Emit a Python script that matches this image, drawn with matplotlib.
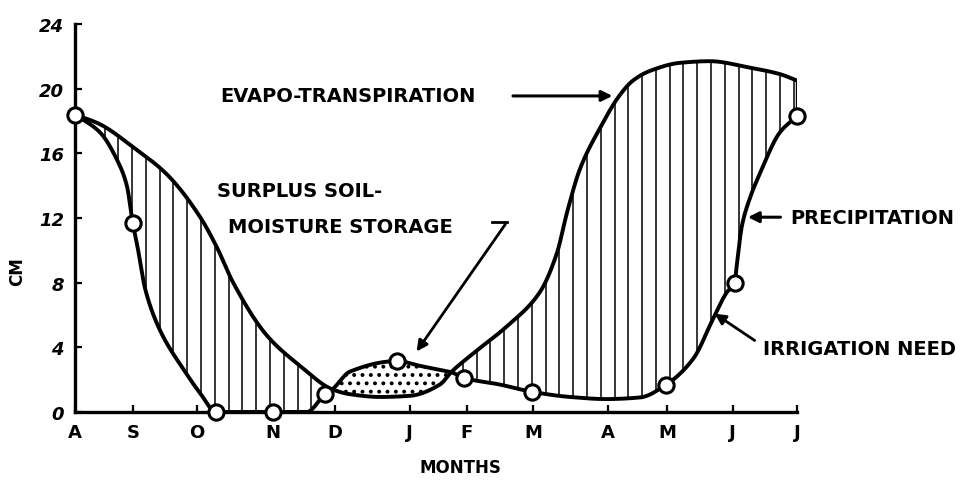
import numpy as np
import matplotlib
matplotlib.use("Agg")
from matplotlib import pyplot as plt

# month axis (positions, in month units)
month_labels = ["A", "S", "O", "N", "D", "J", "F", "M", "A", "M", "J", "J"]
month_pos = [0.0, 0.88, 1.86, 3.01, 3.96, 5.10, 5.97, 6.98, 8.12, 9.02, 10.02, 11.0]
cm_ticks = [0, 4, 8, 12, 16, 20, 24]

# evapo-transpiration curve (no markers)
et_x = [0.00, 0.38, 0.88, 1.40, 1.90, 2.16, 2.41, 2.93, 3.43, 3.92, 4.19, 4.65,
        5.10, 5.56, 5.74, 6.06, 6.58, 7.08, 7.34, 7.50, 7.69, 7.99, 8.30, 8.50,
        8.76, 9.22, 9.67, 10.28, 10.74, 11.00]
et_y = [18.4, 17.8, 16.4, 14.7, 12.1, 10.2, 8.0, 4.7, 2.85, 1.4, 1.1, 0.93,
        1.0, 1.7, 2.5, 3.6, 5.3, 7.4, 9.8, 12.4, 15.0, 17.5, 19.6, 20.5,
        21.1, 21.6, 21.7, 21.3, 20.9, 20.5]

# precipitation curve
pr_x = [0.00, 0.38, 0.64, 0.79, 0.88, 0.94, 1.07, 1.29, 1.65, 1.90, 2.15, 3.02,
        3.53, 3.81, 3.92, 4.19, 4.91, 5.26, 5.56, 5.74, 5.93, 6.47, 6.96, 7.54,
        8.09, 8.61, 9.00, 9.42, 9.72, 9.93, 10.05, 10.08, 10.16, 10.28, 10.44,
        10.74, 11.00]
pr_y = [18.4, 17.3, 15.6, 14.0, 11.7, 10.5, 7.6, 5.1, 2.65, 1.2, 0.0, 0.0,
        0.0, 1.1, 1.4, 2.5, 3.15, 2.85, 2.6, 2.45, 2.1, 1.7, 1.25, 0.93,
        0.8, 0.9, 1.67, 3.3, 5.75, 7.4, 8.0, 9.0, 11.5, 13.2, 14.8,
        17.3, 18.3]

# observed monthly points (circles)
obs_x = [0.00, 0.88, 2.15, 3.02, 3.81, 4.91, 5.93, 6.96, 9.00, 10.05, 11.00]
obs_y = [18.4, 11.7, 0.0, 0.0, 1.1, 3.15, 2.1, 1.25, 1.67, 8.0, 18.3]


def pchip(x, y, xn):
    #shape preserving cubic so the curves stay smooth and do not overshoot
    x = np.asarray(x, float); y = np.asarray(y, float)
    h = np.diff(x); d = np.diff(y) / h
    m = np.zeros_like(y)
    m[0] = d[0]; m[-1] = d[-1]
    for k in range(1, len(x) - 1):
        if d[k - 1] * d[k] > 0:
            w1 = 2 * h[k] + h[k - 1]; w2 = h[k] + 2 * h[k - 1]
            m[k] = (w1 + w2) / (w1 / d[k - 1] + w2 / d[k])
    i = np.clip(np.searchsorted(x, xn) - 1, 0, len(x) - 2)
    t = (xn - x[i]) / h[i]
    h00 = 2 * t**3 - 3 * t**2 + 1; h10 = t**3 - 2 * t**2 + t
    h01 = -2 * t**3 + 3 * t**2; h11 = t**3 - t**2
    return h00 * y[i] + h10 * h[i] * m[i] + h01 * y[i + 1] + h11 * h[i] * m[i + 1]


plt.rcParams['font.family'] = ['DejaVu Sans']
plt.rcParams['hatch.color'] = 'black'
plt.rcParams['hatch.linewidth'] = 1.6

fig = plt.figure(figsize=(9.66, 4.81), dpi=100)
ax = fig.add_axes([75 / 966, 68 / 481, 722 / 966, 388 / 481])

xx = np.linspace(0, 11, 1200)
et_s = pchip(et_x, et_y, xx)
pr_s = pchip(pr_x, pr_y, xx)

#vertical hatching where evapo-transpiration is above precipitation
hx = np.arange(0.45, 10.99, 0.21)
et_h = pchip(et_x, et_y, hx); pr_h = pchip(pr_x, pr_y, hx)
keep = et_h - pr_h > 0.25
ax.vlines(hx[keep], pr_h[keep], et_h[keep], color='black', lw=1.1, zorder=2)

#stippled surplus storage lens
ax.fill_between(xx, et_s, pr_s, where=(pr_s > et_s) & (xx > 3.5) & (xx < 6.2),
                facecolor='none', edgecolor='black', hatch='..', lw=0, zorder=2)

ax.plot(xx, et_s, color='black', lw=2.8, zorder=3, solid_capstyle='round')
ax.plot(xx, pr_s, color='black', lw=2.8, zorder=3, solid_capstyle='round')
ax.plot([et_x[-1], pr_x[-1]], [et_y[-1], pr_y[-1]], color='black', lw=2.5, zorder=3)
ax.plot(obs_x, obs_y, 'o', ms=11, mfc='white', mec='black', mew=2.2, zorder=4,
        clip_on=False)

ax.set_xlim(0, 11)
ax.set_ylim(0, 24)
ax.set_xticks(month_pos)
ax.set_xticklabels(month_labels, fontsize=13, fontweight='bold')
ax.set_yticks(cm_ticks)
ax.set_yticklabels([str(v) for v in cm_ticks], fontsize=13, fontweight='bold',
                   fontstyle='italic')
ax.tick_params(direction='in', length=5, width=1.6, pad=8)
for s in ['top', 'right']:
    ax.spines[s].set_visible(False)
for s in ['left', 'bottom']:
    ax.spines[s].set_linewidth(2.4)

fig.text(17 / 966, 1 - 272 / 481, "CM", rotation=90, fontsize=12, fontweight='bold',
         ha='center', va='center')
fig.text(460 / 966, 1 - 468 / 481, "MONTHS", fontsize=12, fontweight='bold',
         ha='center', va='center')

tk = dict(fontsize=14, fontweight='bold', color='black', va='center', ha='left',
          clip_on=False)
ax.text(2.21, 19.55, "EVAPO-TRANSPIRATION", **tk)
ax.annotate('', xy=(8.23, 19.55), xytext=(6.63, 19.55),
            arrowprops=dict(arrowstyle='-|>', color='black', lw=2.2, mutation_scale=16))
ax.text(2.16, 13.7, "SURPLUS SOIL-", **tk)
ax.text(2.33, 11.45, "MOISTURE STORAGE", **tk)
ax.plot([6.36, 6.58], [11.75, 11.75], color='black', lw=2)
ax.annotate('', xy=(5.18, 3.6), xytext=(6.58, 11.75),
            arrowprops=dict(arrowstyle='-|>', color='black', lw=2, mutation_scale=16))
ax.text(10.89, 12.05, "PRECIPITATION", **tk)
ax.annotate('', xy=(10.21, 12.05), xytext=(10.79, 12.05), annotation_clip=False,
            arrowprops=dict(arrowstyle='-|>', color='black', lw=2.2, mutation_scale=16))
ax.text(10.48, 3.9, "IRRIGATION NEED", **tk)
ax.annotate('', xy=(9.71, 6.18), xytext=(10.39, 4.33), annotation_clip=False,
            arrowprops=dict(arrowstyle='-|>', color='black', lw=2, mutation_scale=16))

fig.savefig("out.png", dpi=100)
